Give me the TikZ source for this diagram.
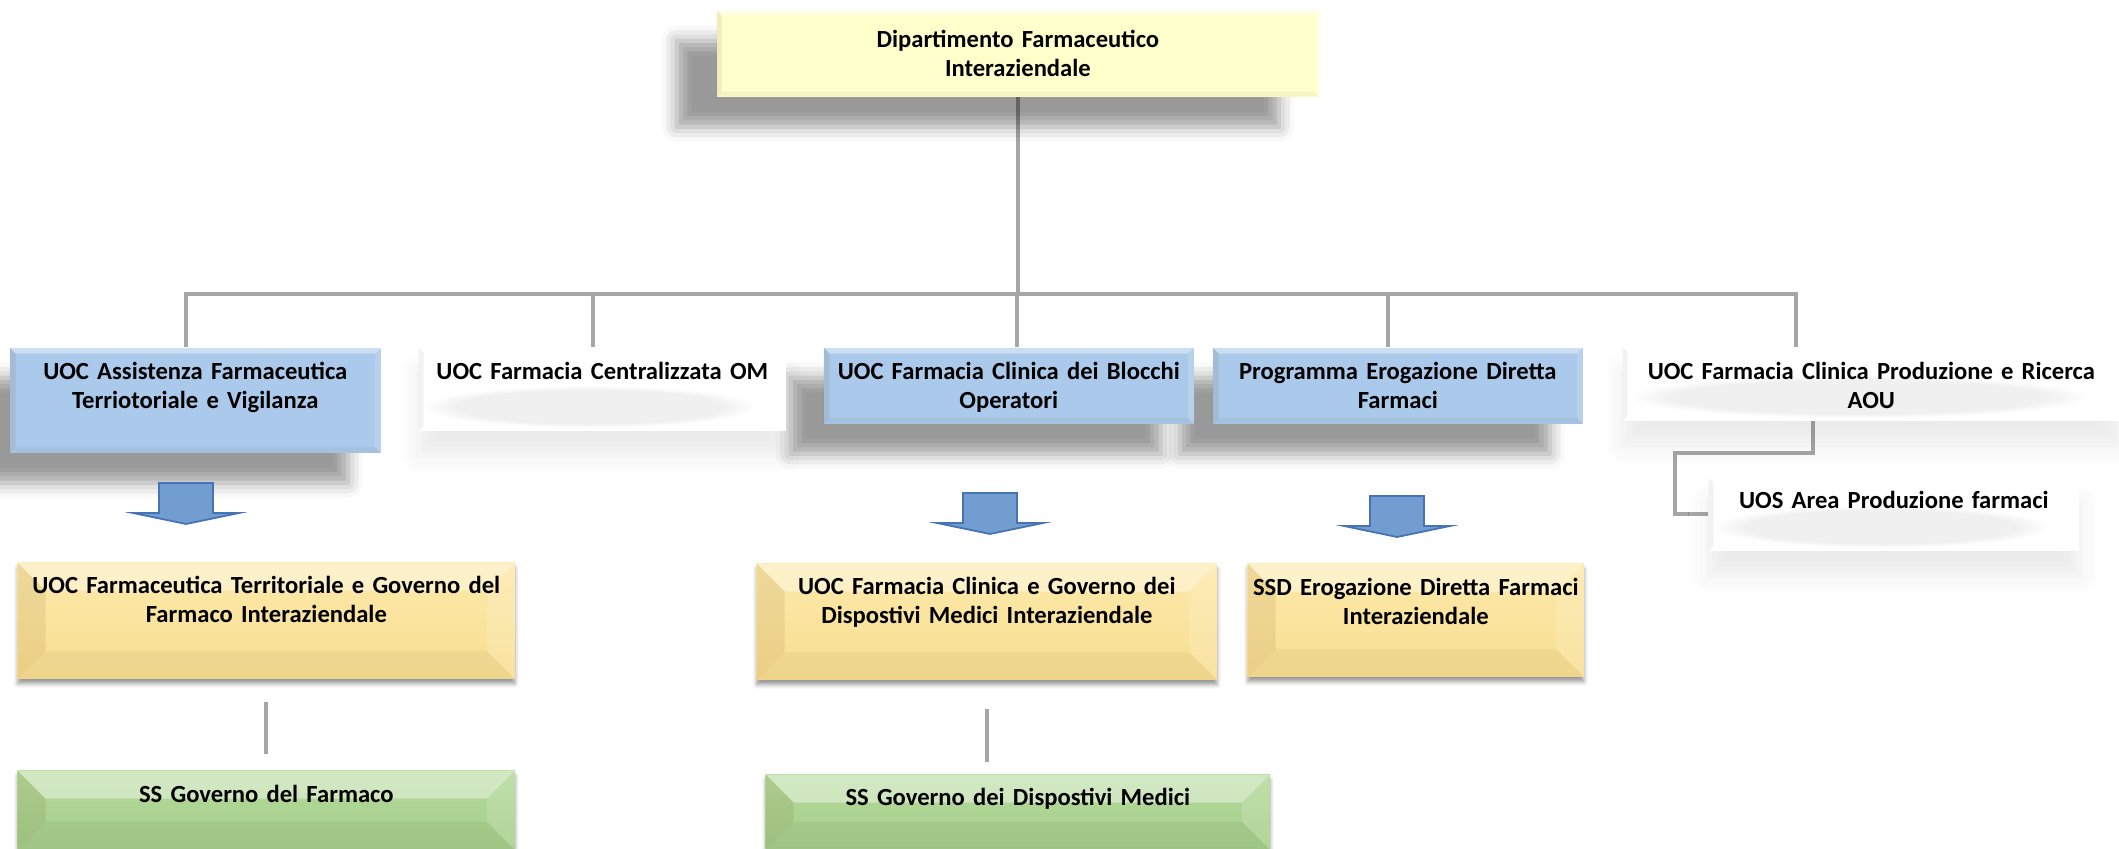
\documentclass[tikz,border=0pt]{standalone}
\usepackage{fontspec}
\setmainfont{Carlito}[WordSpace=0.6]
\usetikzlibrary{calc,shadows.blur,fadings,backgrounds}

\definecolor{linegray}{RGB}{166,166,166}
\definecolor{paleyellow}{RGB}{255,255,204}
\definecolor{paleblue}{RGB}{171,201,234}
\definecolor{arrowblue}{RGB}{114,157,209}
\definecolor{arrowedge}{RGB}{70,115,180}
\definecolor{goldtop}{RGB}{252,233,170}
\definecolor{goldbot}{RGB}{249,222,145}
\definecolor{leaftop}{RGB}{180,218,155}
\definecolor{leafbot}{RGB}{165,206,138}

\tikzset{
  org/.style={anchor=north west, inner sep=0pt, align=center,
    font=\fontsize{7.0}{8.3}\selectfont\bfseries},
  bevel/.style={path picture={
    \coordinate (pnw) at (path picture bounding box.north west);
    \coordinate (pne) at (path picture bounding box.north east);
    \coordinate (psw) at (path picture bounding box.south west);
    \coordinate (pse) at (path picture bounding box.south east);
    \fill[white, opacity=.4] (pnw) -- (pne) -- ++(-#1,-#1) -- ($(pnw)+(#1,-#1)$) -- cycle;
    \fill[black!60!orange, opacity=.09] (pnw) -- ++(#1,-#1) -- ($(psw)+(#1,#1)$) -- (psw) -- cycle;
    \fill[white, opacity=.15] (pne) -- ++(-#1,-#1) -- ($(pse)+(-#1,#1)$) -- (pse) -- cycle;
    \fill[black, opacity=.04] (psw) -- ++(#1,#1) -- ($(pse)+(-#1,#1)$) -- (pse) -- cycle;
  }},
  deptbox/.style={org, fill=paleyellow, bevel=0.05cm,
    blur shadow={shadow xshift=-0.4cm, shadow yshift=-0.3cm, shadow blur radius=0.15cm, shadow opacity=40}},
  bluebox/.style={org, fill=paleblue, bevel=0.06cm,
    blur shadow={shadow xshift=-0.33cm, shadow yshift=-0.3cm, shadow blur radius=0.15cm, shadow opacity=40}},
  softbox/.style={org, fill=white,
    blur shadow={shadow xshift=0cm, shadow yshift=-0.25cm, shadow blur radius=0.2cm, shadow opacity=8},
    path picture={
      \coordinate (psw) at (path picture bounding box.south west);
      \coordinate (pse) at (path picture bounding box.south east);
      \coordinate (pnw) at (path picture bounding box.north west);
      \fill[black, opacity=.06, path fading=circle with fuzzy edge 20 percent]
        ($(psw)+(0.05cm,0.03cm)$) rectangle ($(pse)+(-0.3cm,0.45cm)$);
      \fill[black, opacity=.05] (pnw) -- ++(0.05cm,-0.05cm) -- ($(psw)+(0.05cm,0.05cm)$) -- (psw) -- cycle;
    }},
  goldbox/.style={org, top color=goldtop, bottom color=goldbot, bevel=0.28cm,
    blur shadow={shadow xshift=0cm, shadow yshift=-0.05cm, shadow blur radius=0.04cm, shadow opacity=40}},
  leafbox/.style={org, top color=leaftop, bottom color=leafbot, bevel=0.28cm,
    blur shadow={shadow xshift=0cm, shadow yshift=-0.05cm, shadow blur radius=0.04cm, shadow opacity=40}},
  conn/.style={draw=linegray, line width=0.04cm},
  blockarrow/.style={fill=arrowblue, draw=arrowedge, line width=0.5pt}
}

\begin{document}
\begin{tikzpicture}[x=0.01cm, y=-0.01cm]
\useasboundingbox (0,0) rectangle (2119,849);

\node[deptbox, text width=6.02cm, text height=0.37cm, text depth=0.49cm] (dept) at (716,10) {Dipartimento Farmaceutico\\Interaziendale};

\node[softbox, text width=4.97cm, text height=0.32cm, text depth=0.41cm] (aou) at (1622,347) {UOC Farmacia Clinica Produzione e Ricerca\\AOU};
\node[bluebox, text width=3.70cm, text height=0.32cm, text depth=0.44cm] (erog) at (1212,347) {Programma Erogazione Diretta\\Farmaci};
\node[bluebox, text width=3.70cm, text height=0.32cm, text depth=0.44cm] (blocchi) at (823,347) {UOC Farmacia Clinica dei Blocchi\\Operatori};
\node[softbox, text width=3.67cm, text height=0.32cm, text depth=0.51cm] (central) at (418,347) {UOC Farmacia Centralizzata OM};
\node[bluebox, text width=3.71cm, text height=0.32cm, text depth=0.73cm] (assist) at (9,347) {UOC Assistenza Farmaceutica\\Terriotoriale e Vigilanza};

\node[softbox, text width=3.70cm, text height=0.31cm, text depth=0.42cm] (uos) at (1708,477) {UOS Area Produzione farmaci};

\node[goldbox, text width=4.97cm, text height=0.31cm, text depth=0.85cm] (terr) at (17,562) {UOC Farmaceutica Territoriale e Governo del\\Farmaco Interaziendale};
\node[goldbox, text width=4.60cm, text height=0.31cm, text depth=0.85cm] (dispo) at (756,563) {UOC Farmacia Clinica e Governo dei\\Dispostivi Medici Interaziendale};
\node[goldbox, text width=3.36cm, text height=0.32cm, text depth=0.81cm] (ssd) at (1247,563) {SSD Erogazione Diretta Farmaci\\Interaziendale};

\node[leafbox, text width=4.97cm, text height=0.32cm, text depth=0.47cm] (govf) at (17,770) {SS Governo del Farmaco};
\node[leafbox, text width=5.04cm, text height=0.31cm, text depth=0.44cm] (govd) at (765,774) {SS Governo dei Dispostivi Medici};

\begin{pgfonlayer}{background}
\draw[conn] (dept.south) -- (dept.south |- 0,294);
\draw[conn] (186,0 |- assist.north) |- (1796,294) -- (1796,0 |- aou.north);
\foreach \n/\x in {central/593, blocchi/1017, erog/1388}
  \draw[conn] (\x,294) -- (\x,0 |- \n.north);
\draw[conn] (1813,0 |- aou.south) |- (1675,453) |- (uos.west);
\draw[conn, shorten <=0.23cm, shorten >=0.16cm] (terr.south) -- (terr.south |- govf.north);
\draw[conn, shorten <=0.29cm, shorten >=0.12cm] (dispo.south) -- (dispo.south |- govd.north);
\end{pgfonlayer}

\foreach \cx/\ty in {186/483, 990/493, 1397/496}
  \draw[blockarrow] (\cx-27,\ty) -- (\cx+27,\ty) -- (\cx+27,\ty+30) -- (\cx+53,\ty+30)
    -- (\cx,\ty+41) -- (\cx-53,\ty+30) -- (\cx-27,\ty+30) -- cycle;
\end{tikzpicture}
\end{document}
